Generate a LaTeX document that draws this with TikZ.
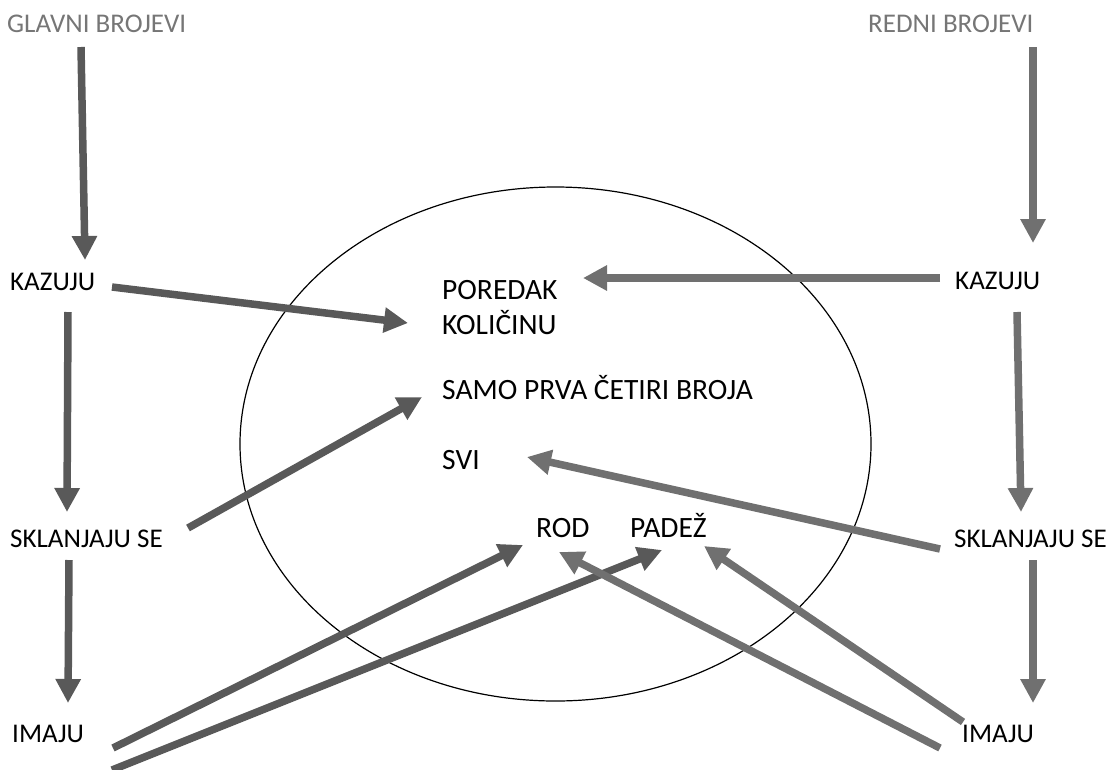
\documentclass[tikz,border=0pt]{standalone}
\usepackage{fontspec}
\setmainfont{Carlito}
\usetikzlibrary{arrows.meta}
\usetikzlibrary{positioning}
\definecolor{glavnigray}{HTML}{595959}
\definecolor{rednigray}{HTML}{707070}
\definecolor{titlegray}{HTML}{767676}
\tikzset{
    word/.style={anchor=base west, inner sep=0pt, text=black,
        font=\fontsize{27}{31}\selectfont},
    inword/.style={word, font=\fontsize{29.5}{33}\selectfont},
    heading/.style={word, text=titlegray},
    glavnivec/.style={draw=glavnigray, line width=7.5pt,
        -{Triangle[length=24pt,width=24pt]}},
    rednivec/.style={draw=rednigray, line width=7.5pt,
        -{Triangle[length=24pt,width=24pt]}},
    oval/.style={draw=black, line width=1.2pt},
}

\begin{document}
\begin{tikzpicture}[x=1pt, y=-1pt]
		\useasboundingbox (0,0) rectangle (1110,769);
		% ellipse in the middle
		\draw[oval] (555.5,444) ellipse [x radius=315.5, y radius=257];
		% left column
		\node[heading] (glavni) at (7,32) {GLAVNI BROJEVI};
		\node[word] (kazL) at (10,290) {KAZUJU};
		\node[word] (sklL) at (10,547) {SKLANJAJU SE};
		\node[word] (imaL) at (12,742) {IMAJU};
		% right column
		\node[heading] (redni) at (868,32) {REDNI BROJEVI};
		\node[word] (kazR) at (955,289) {KAZUJU};
		\node[word] (sklR) at (954,547) {SKLANJAJU SE};
		\node[word] (imaR) at (962,742) {IMAJU};
		% inside the ellipse
		\node[inword] (por) at (442,299) {POREDAK};
		\node[inword] (kol) at (442,334) {KOLIČINU};
		\node[inword] (samo) at (442,399) {SAMO PRVA ČETIRI BROJA};
		\node[inword] (svi) at (442,469) {SVI};
		\node[inword] (rod) at (536,537) {ROD};
		\node[inword] (padez) at (630,537) {PADEŽ};
		% glavni brojevi
		\draw[glavnivec] ([shift={(74,15)}]glavni.base west) -- ([shift={(75,-30)}]kazL.base west);
		\draw[glavnivec] ([shift={(58,22)}]kazL.base west) -- ([shift={(57,-35)}]sklL.base west);
		\draw[glavnivec] ([shift={(59,13)}]sklL.base west) -- ([shift={(56,-39)}]imaL.base west);
		\draw[glavnivec] ([shift={(102,-3)}]kazL.base west) -- ([shift={(-34,-11)}]kol.base west);
		\draw[glavnivec] ([shift={(178,-19)}]sklL.base west) -- ([shift={(-20,-2)}]samo.base west);
		\draw[glavnivec] ([shift={(101,6)}]imaL.base west) -- ([shift={(-13,8)}]rod.base west);
		\draw[glavnivec] ([shift={(100,28)}]imaL.base west) -- ([shift={(32,13)}]padez.base west);
		% redni brojevi
		\draw[rednivec] ([shift={(165,15)}]redni.base west) -- ([shift={(78,-46)}]kazR.base west);
		\draw[rednivec] ([shift={(-15,-11)}]kazR.base west) -- ([shift={(141,-21)}]por.base west);
		\draw[rednivec] ([shift={(62,23)}]kazR.base west) -- ([shift={(67,-35)}]sklR.base west);
		\draw[rednivec] ([shift={(-14,2)}]sklR.base west) -- ([shift={(85,-12)}]svi.base west);
		\draw[rednivec] ([shift={(79,13)}]sklR.base west) -- ([shift={(71,-39)}]imaR.base west);
		\draw[rednivec] ([shift={(-22,6)}]imaR.base west) -- ([shift={(23,15)}]rod.base west);
		\draw[rednivec] ([shift={(1,-20)}]imaR.base west) -- ([shift={(74,9)}]padez.base west);
\end{tikzpicture}
\end{document}
